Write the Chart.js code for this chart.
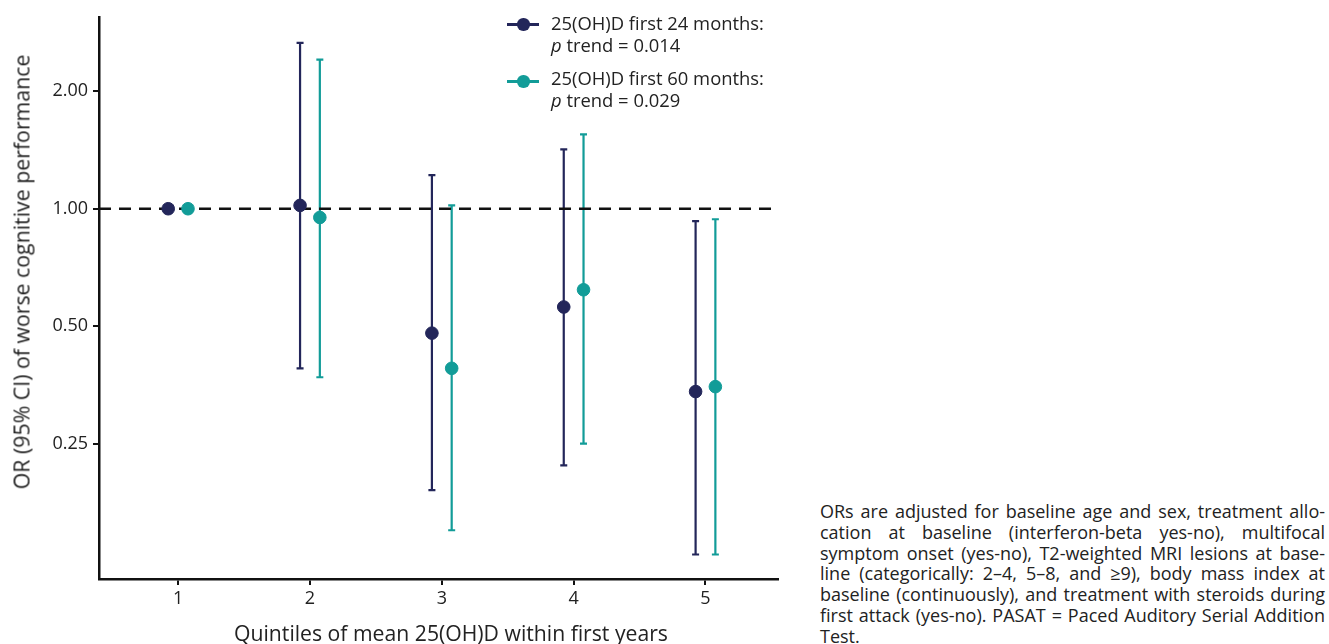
<!DOCTYPE html>
<html>
<head>
<meta charset="utf-8">
<script src="https://cdn.jsdelivr.net/npm/chart.js@4"></script>
<style>
  body { margin: 0; background: #fff; font-family: "Open Sans", sans-serif; color: #222; }
  #wrap { position: relative; width: 1329px; height: 644px; overflow: hidden; }
  #chart { position: absolute; left: 0; top: 0; }
  .ytitle { position: absolute; left: 21px; top: 272px; transform: translate(-50%, -50%) rotate(-90deg);
            font-size: 21.3px; white-space: nowrap; }
  .xtitle { position: absolute; left: 451px; top: 632px; transform: translate(-50%, -50%);
            font-size: 21.2px; white-space: nowrap; }
  .leg { position: absolute; left: 551px; font-size: 18.4px; line-height: 21.5px; white-space: nowrap; }
  .mk { position: absolute; left: 507px; width: 32px; height: 2.5px; }
  .dot { position: absolute; left: 10px; top: -5px; width: 12.5px; height: 12.5px; border-radius: 50%; }
  #note { position: absolute; left: 820px; top: 501px; width: 505px; font-size: 18px; line-height: 20.8px; }
  #note div { text-align: justify; text-align-last: justify; white-space: nowrap; }
  #note div.last { text-align-last: left; }
</style>
</head>
<body>
<div id="wrap">
  <canvas id="chart" width="800" height="644"></canvas>
  <div class="ytitle">OR (95% CI) of worse cognitive performance</div>
  <div class="xtitle">Quintiles of mean 25(OH)D within first years</div>

  <div class="mk" style="top:23px;background:#23265a"><div class="dot" style="background:#23265a"></div></div>
  <div class="leg" style="top:12px">25(OH)D first 24 months:<br><i>p</i> trend = 0.014</div>
  <div class="mk" style="top:80px;background:#129c98"><div class="dot" style="background:#129c98"></div></div>
  <div class="leg" style="top:67px">25(OH)D first 60 months:<br><i>p</i> trend = 0.029</div>

  <div id="note">
    <div>ORs are adjusted for baseline age and sex, treatment allo-</div>
    <div>cation at baseline (interferon-beta yes-no), multifocal</div>
    <div>symptom onset (yes-no), T2-weighted MRI lesions at base-</div>
    <div>line (categorically: 2–4, 5–8, and ≥9), body mass index at</div>
    <div>baseline (continuously), and treatment with steroids during</div>
    <div>first attack (yes-no). PASAT = Paced Auditory Serial Addition</div>
    <div class="last">Test.</div>
  </div>
</div>
<script>
// quintiles on the x axis
const quintiles = [1, 2, 3, 4, 5];
const yTicks = [0.25, 0.5, 1, 2];

// 25(OH)D first 24 months
const or24 = [1.00, 1.02, 0.48, 0.56, 0.34];
const lo24 = [1.00, 0.39, 0.19, 0.22, 0.13];
const hi24 = [1.00, 2.66, 1.22, 1.42, 0.93];

// 25(OH)D first 60 months
const or60 = [1.00, 0.95, 0.39, 0.62, 0.35];
const lo60 = [1.00, 0.37, 0.15, 0.25, 0.13];
const hi60 = [1.00, 2.41, 1.02, 1.55, 0.94];

const NAVY = "#23265a";
const TEAL = "#129c98";
const DODGE = 0.075;

function pts(vals, off) {
    return quintiles.map((q, i) => ({ x: q + off, y: vals[i] }));
}

// whiskers with caps, drawn under the points
const errorBars = {
    id: "errorBars",
    beforeDatasetsDraw(chart) {
        const ctx = chart.ctx;
        const xs = chart.scales.x, ys = chart.scales.y;
        const sets = [[lo24, hi24, -DODGE, NAVY], [lo60, hi60, DODGE, TEAL]];
        ctx.save();
        sets.forEach(([lo, hi, off, col]) => {
            ctx.strokeStyle = col;
            ctx.lineWidth = 2.2;
            quintiles.forEach((q, i) => {
                if (lo[i] === hi[i]) return;
                const x = xs.getPixelForValue(q + off);
                const y1 = ys.getPixelForValue(lo[i]);
                const y2 = ys.getPixelForValue(hi[i]);
                ctx.beginPath();
                ctx.moveTo(x, y1); ctx.lineTo(x, y2);
                ctx.moveTo(x - 3.5, y1); ctx.lineTo(x + 3.5, y1);
                ctx.moveTo(x - 3.5, y2); ctx.lineTo(x + 3.5, y2);
                ctx.stroke();
            });
        });
        ctx.restore();
    }
};

new Chart("chart", {
    type: "scatter",
    data: {
        datasets: [
            {
                type: "line",
                data: [{ x: 0.4, y: 1 }, { x: 5.5, y: 1 }],
                borderColor: "#111",
                borderWidth: 2.4,
                borderDash: [12, 8],
                pointRadius: 0,
                order: 3
            },
            {
                label: "25(OH)D first 24 months",
                data: pts(or24, -DODGE),
                backgroundColor: NAVY,
                borderColor: NAVY,
                pointRadius: 6.3,
                order: 2
            },
            {
                label: "25(OH)D first 60 months",
                data: pts(or60, DODGE),
                backgroundColor: TEAL,
                borderColor: TEAL,
                pointRadius: 6.3,
                order: 1
            }
        ]
    },
    options: {
        responsive: false,
        animation: false,
        layout: { padding: { left: 0, top: 17, right: 22, bottom: 0 } },
        plugins: { legend: { display: false }, tooltip: { enabled: false } },
        scales: {
            x: {
                type: "linear",
                min: 0.4,
                max: 5.55,
                afterBuildTicks: s => { s.ticks = quintiles.map(v => ({ value: v })); },
                afterFit: s => { s.height = 65; },
                border: { color: "#111", width: 2.5 },
                grid: { drawOnChartArea: false, color: "#111", lineWidth: 2, tickLength: 6 },
                ticks: { color: "#222", font: { family: "Open Sans", size: 18 }, padding: 3 }
            },
            y: {
                type: "logarithmic",
                min: 0.1125,
                max: 3.1,
                afterBuildTicks: s => { s.ticks = yTicks.map(v => ({ value: v })); },
                afterFit: s => { s.width = 99; },
                border: { color: "#111", width: 2.5 },
                grid: { drawOnChartArea: false, color: "#111", lineWidth: 2, tickLength: 6 },
                ticks: {
                    color: "#222",
                    font: { family: "Open Sans", size: 18 },
                    padding: 5,
                    callback: v => Number(v).toFixed(2)
                }
            }
        }
    },
    plugins: [errorBars]
});
</script>
</body>
</html>
